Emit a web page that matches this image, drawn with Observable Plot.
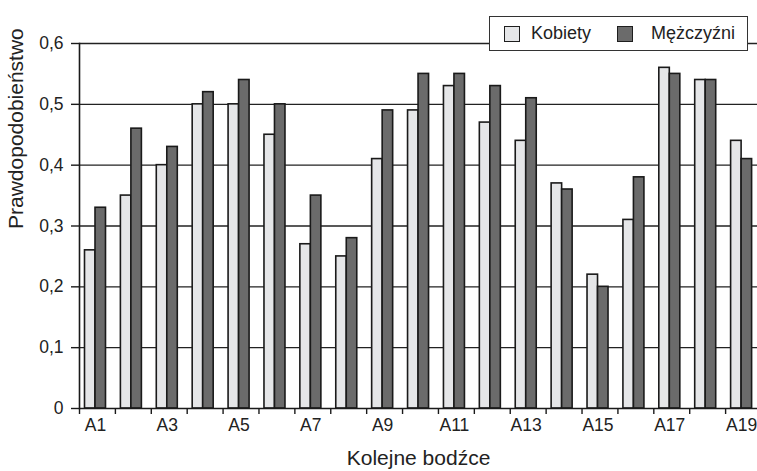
<!DOCTYPE html>
<html>
<head>
<meta charset="utf-8">
<script src="https://cdn.jsdelivr.net/npm/d3@7"></script>
<script src="https://cdn.jsdelivr.net/npm/@observablehq/plot@0.6"></script>
<style>
  html, body { margin: 0; padding: 0; background: #fff; overflow: hidden; }
  #wrap { position: relative; width: 757px; height: 471px; overflow: hidden; }
  #legend {
    position: absolute; left: 489px; top: 16px; width: 259px; height: 35px;
    box-sizing: border-box; border: 1.5px solid #333; background: #fff;
    font-family: "Liberation Sans", Arial, sans-serif; font-size: 18px; color: #222;
    display: flex; align-items: center; padding-left: 14px;
  }
  .item { display: flex; align-items: center; }
  .sw { width: 14px; height: 14px; border: 1.5px solid #1e1e1e; margin-right: 11px; }
  .item + .item { margin-left: 26px; }
  .item + .item .sw { margin-right: 18px; }
</style>
</head>
<body>
<div id="wrap"><div id="legend"></div></div>
<script>
// ---- data ----
const categories = ["A1","A2","A3","A4","A5","A6","A7","A8","A9","A10","A11","A12","A13","A14","A15","A16","A17","A18","A19"];
const kobiety    = [0.26,0.35,0.40,0.50,0.50,0.45,0.27,0.25,0.41,0.49,0.53,0.47,0.44,0.37,0.22,0.31,0.56,0.54,0.44];
const mezczyzni  = [0.33,0.46,0.43,0.52,0.54,0.50,0.35,0.28,0.49,0.55,0.55,0.53,0.51,0.36,0.20,0.38,0.55,0.54,0.41];
const seriesNames = ["Kobiety", "Mężczyźni"];
const seriesColors = ["#e5e6e8", "#6b6b6b"];
const yTicks = [0, 0.1, 0.2, 0.3, 0.4, 0.5, 0.6];
const xLabelTicks = categories.filter((d, i) => i % 2 === 0);
const yLabel = "Prawdopodobieństwo";
const xLabel = "Kolejne bodźce";

// ---- layout ----
const W = 757, H = 471;
const mL = 79, mT = 43, mB = 63;
const xRange = [mL, 761];
const bw = (xRange[1] - xRange[0]) / categories.length;

const rowsK = categories.map((c, i) => ({cat: c, value: kobiety[i]}));
const rowsM = categories.map((c, i) => ({cat: c, value: mezczyzni[i]}));
const fmt = d => d === 0 ? "0" : d.toFixed(1).replace(".", ",");

const chart = Plot.plot({
  width: W, height: H,
  marginLeft: mL, marginRight: 0, marginTop: mT, marginBottom: mB,
  style: {fontFamily: "'Liberation Sans', Arial, sans-serif", fontSize: "17px", color: "#222", background: "#fff"},
  x: {type: "band", domain: categories, range: xRange, paddingInner: 0, paddingOuter: 0, round: false, axis: null},
  y: {domain: [0, 0.6], axis: null},
  marks: [
    Plot.gridY(yTicks.slice(1), {stroke: "#222", strokeOpacity: 1, strokeWidth: 1.4}),
    Plot.barY(rowsK, {x: "cat", y: "value", fill: seriesColors[0], stroke: "#1a1a1a", strokeWidth: 1.6, insetLeft: 5.5, insetRight: bw - 16}),
    Plot.barY(rowsM, {x: "cat", y: "value", fill: seriesColors[1], stroke: "#1a1a1a", strokeWidth: 1.6, insetLeft: 16, insetRight: bw - 26.5}),
    Plot.ruleY([0], {stroke: "#1a1a1a", strokeWidth: 1.6}),
    Plot.frame({anchor: "left", stroke: "#1a1a1a", strokeWidth: 1.6}),
    Plot.axisY(yTicks, {tickSize: 8, tickPadding: 8, tickFormat: fmt, stroke: "#1a1a1a", strokeWidth: 1.4, fontSize: 17.5, label: null}),
    Plot.axisX(categories, {tickSize: 6, tickFormat: () => "", dx: -bw / 2, stroke: "#1a1a1a", strokeWidth: 1.4, label: null}),
    Plot.axisX(xLabelTicks, {tickSize: 0, tickPadding: 10, dx: -2, fontSize: 17.5, label: null}),
    Plot.text([yLabel], {frameAnchor: "left", rotate: -90, dx: -63, dy: 3, text: d => d, fontSize: 21, fill: "#222"}),
    Plot.text([xLabel], {frameAnchor: "bottom", dy: 56, text: d => d, fontSize: 21, fill: "#222"})
  ]
});
document.getElementById("wrap").prepend(chart);

const legend = document.getElementById("legend");
seriesNames.forEach((name, i) => {
  const item = document.createElement("div");
  item.className = "item";
  const sw = document.createElement("span");
  sw.className = "sw";
  sw.style.background = seriesColors[i];
  const label = document.createElement("span");
  label.textContent = name;
  item.append(sw, label);
  legend.append(item);
});
</script>
</body>
</html>
